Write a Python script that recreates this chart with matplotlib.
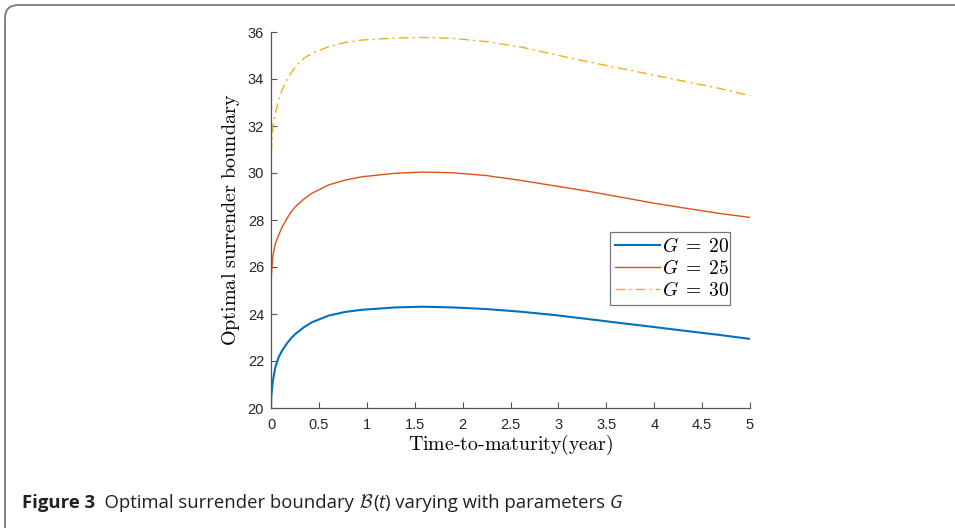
import matplotlib
matplotlib.use("Agg")
import matplotlib.pyplot as plt
from matplotlib.patches import FancyBboxPatch

# ---- data ----
t = [0, 0.003, 0.01, 0.021, 0.045, 0.08, 0.115, 0.167, 0.21, 0.254, 0.341, 0.428, 0.6,
     0.776, 0.95, 1.3, 1.58, 1.9, 2.25, 2.6, 2.95, 3.3, 3.64, 3.99, 4.33, 4.68, 5.0]
b_g20 = [20, 20.5, 20.77, 21.19, 21.73, 22.16, 22.44, 22.75, 22.97, 23.15, 23.43, 23.65, 23.93,
         24.09, 24.18, 24.28, 24.31, 24.28, 24.21, 24.10, 23.96, 23.79, 23.62, 23.45, 23.28, 23.11, 22.94]
b_g25 = [25, 25.6, 26.0, 26.51, 27.0, 27.36, 27.69, 28.07, 28.34, 28.57, 28.88, 29.14, 29.49,
         29.70, 29.84, 29.99, 30.04, 30.01, 29.89, 29.69, 29.46, 29.23, 28.98, 28.72, 28.5, 28.28, 28.11]
b_g30 = [30, 30.8, 31.5, 32.0, 32.54, 33.11, 33.53, 33.96, 34.26, 34.52, 34.88, 35.09, 35.37,
         35.56, 35.66, 35.74, 35.77, 35.73, 35.59, 35.37, 35.05, 34.74, 34.46, 34.17, 33.89, 33.6, 33.29]
labels = [r"$G\;=\;20$", r"$G\;=\;25$", r"$G\;=\;30$"]
xticks = [0, 0.5, 1, 1.5, 2, 2.5, 3, 3.5, 4, 4.5, 5]
xticklabels = ["0", "0.5", "1", "1.5", "2", "2.5", "3", "3.5", "4", "4.5", "5"]
yticks = [20, 22, 24, 26, 28, 30, 32, 34, 36]

plt.rcParams["mathtext.fontset"] = "cm"

W, H = 955, 528
fig = plt.figure(figsize=(W / 100, H / 100), dpi=100)

# rounded frame
frame = FancyBboxPatch((5 / W, -0.2), 1.2, 1.2 - 5 / H,
                       boxstyle="round,pad=0,rounding_size=0.014",
                       transform=fig.transFigure, fill=False,
                       edgecolor="#7a7a7a", linewidth=1.3, mutation_aspect=W / H)
fig.patches.append(frame)

ax = fig.add_axes([271 / W, 1 - 408 / H, (750 - 271) / W, (408 - 32) / H])
ax.plot(t, b_g20, color="#0072BD", lw=1.5, label=labels[0])
ax.plot(t, b_g25, color="#D95319", lw=1.0, label=labels[1])
ax.plot(t, b_g30, color="#EDB120", lw=1.0, ls=(0, (7, 3, 1.5, 3)), label=labels[2])

ax.set_xlim(0, 5)
ax.set_ylim(20, 36)
ax.set_xticks(xticks)
ax.set_xticklabels(xticklabels)
ax.set_yticks(yticks)
for s in ["top", "right"]:
    ax.spines[s].set_visible(False)
for s in ["left", "bottom"]:
    ax.spines[s].set_color("#555555")
    ax.spines[s].set_linewidth(0.9)
ax.tick_params(direction="in", length=4, width=0.8, color="#555555",
               labelcolor="#262626", labelsize=10.5)
ax.tick_params(axis="x", pad=7)
ax.tick_params(axis="y", pad=5)
for lab in ax.get_xticklabels() + ax.get_yticklabels():
    lab.set_fontfamily("Liberation Sans")

ax.set_xlabel(r"$\mathrm{Time\text{-}to\text{-}maturity(year)}$", fontsize=14.3, labelpad=1)
ax.set_ylabel(r"$\mathrm{Optimal\ surrender\ boundary}$", fontsize=14.5, labelpad=4)

leg = ax.legend(loc="lower left", bbox_to_anchor=(0.708, 0.274, 0.25, 0.207),
                mode="expand", fontsize=14, frameon=True, fancybox=False,
                edgecolor="#555555", handlelength=2.3, handletextpad=0.1,
                labelspacing=0.15, borderpad=0.25, borderaxespad=0)
leg.get_frame().set_linewidth(0.9)

# caption built from pieces
fig.canvas.draw()
r = fig.canvas.get_renderer()
pieces = [
    ("Figure 3", dict(weight="bold", family="Open Sans")),
    ("  Optimal surrender boundary ", dict(family="Open Sans")),
    (r"$\mathcal{B}$", dict(family="Open Sans", math_fontfamily="cm")),
    ("(", dict(family="Open Sans")),
    ("t", dict(family="Open Sans", style="italic")),
    (") varying with parameters ", dict(family="Open Sans")),
    ("G", dict(family="Open Sans", style="italic")),
]
x = 22
y = 1 - 508 / H
for txt, kw in pieces:
    tt = fig.text(x / W, y, txt, fontsize=13.3, color="#231f20", va="baseline", **kw)
    bb = tt.get_window_extent(renderer=r)
    x = bb.x1

fig.savefig("out.png", dpi=100)
